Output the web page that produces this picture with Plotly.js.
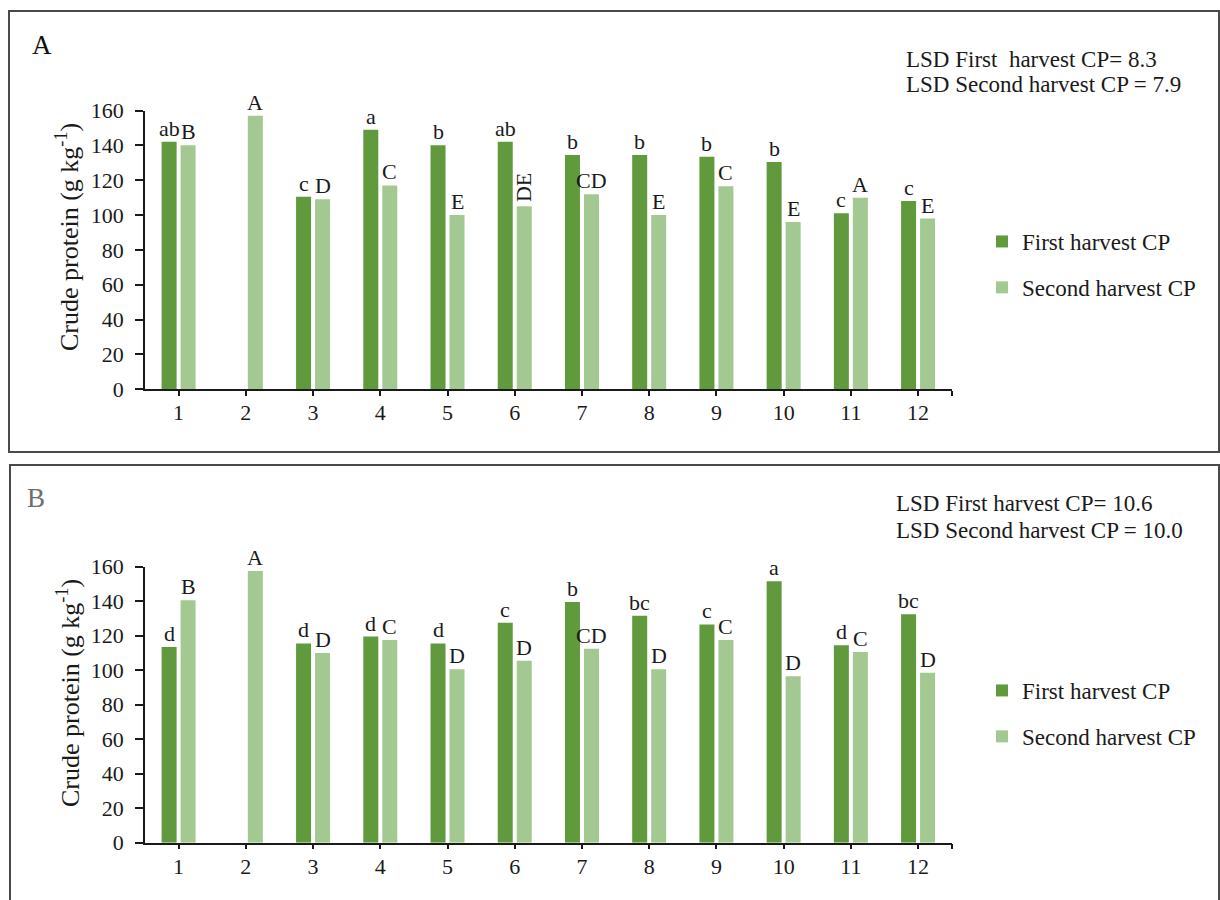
<!DOCTYPE html>
<html>
<head>
<meta charset="utf-8">
<script src="https://cdn.plot.ly/plotly-3.0.1.min.js"></script>
<style>
html,body{margin:0;padding:0;background:#ffffff;}
#chart{width:1220px;height:900px;}
</style>
</head>
<body>
<div id="chart"></div>
<script>
// ---------------- data ----------------
const treatments = [1,2,3,4,5,6,7,8,9,10,11,12];
const tickLabels = ['1','2','3','4','5','6','7','8','9','10','11','12'];

const firstA  = [142, null, 110.5, 149, 140, 142, 134.5, 134.5, 133.5, 130.5, 101, 108];
const secondA = [140, 157, 109, 117, 100, 105, 112, 100, 116.5, 96, 110, 98];
const firstB  = [113.5, null, 115.5, 119.5, 115.5, 127.5, 139.5, 131.5, 126.5, 151.5, 114.5, 132.5];
const secondB = [140.5, 157.5, 110, 117.5, 100.5, 105.5, 112.5, 100.5, 117.5, 96.5, 110.5, 98.5];

const lettersFirstA  = ['ab','','c','a','b','ab','b','b','b','b','c','c'];
const lettersSecondA = ['B','A','D','C','E','DE','CD','E','C','E','A','E'];
const lettersFirstB  = ['d','','d','d','d','c','b','bc','c','a','d','bc'];
const lettersSecondB = ['B','A','D','C','D','D','CD','D','C','D','C','D'];

const seriesNames = ['First harvest CP','Second harvest CP'];
const lsdA = ['LSD First\u00a0 harvest CP= 8.3','LSD Second harvest CP = 7.9'];
const lsdB = ['LSD First harvest CP= 10.6','LSD Second harvest CP = 10.0'];
const panelLabels = ['A','B'];
const yTitle = 'Crude protein (g kg<sup>-1</sup>)';

// ---------------- style ----------------
const W = 1220, H = 900;
const px = p => p / W;
const py = p => 1 - p / H;
const FONT = 'Liberation Serif, Times New Roman, serif';
const dark = '#609a3c';
const light = '#a3c891';
const ink = '#1a1a1a';

const traces = [
  {type:'bar', x:treatments, y:firstA, name:seriesNames[0], marker:{color:dark}, xaxis:'x', yaxis:'y', legend:'legend', legendgroup:'a1'},
  {type:'bar', x:treatments, y:secondA, name:seriesNames[1], marker:{color:light}, xaxis:'x', yaxis:'y', legend:'legend', legendgroup:'a2'},
  {type:'bar', x:treatments, y:firstB, name:seriesNames[0], marker:{color:dark}, xaxis:'x2', yaxis:'y2', legend:'legend2', legendgroup:'b1'},
  {type:'bar', x:treatments, y:secondB, name:seriesNames[1], marker:{color:light}, xaxis:'x2', yaxis:'y2', legend:'legend2', legendgroup:'b2'}
];
traces.forEach(t => { t.hoverinfo = 'x+y+name'; });

function xAxis(anchor){
  return {
    anchor: anchor, domain:[px(145), px(951.7)], range:[0.5, 12.5],
    tickmode:'array', tickvals: treatments, ticktext: tickLabels,
    ticks:'outside', ticklen:5, tickwidth:1.5, tickcolor:ink,
    minor:{tickmode:'array', tickvals:[12.5], ticks:'outside', ticklen:5, tickwidth:1.5, tickcolor:ink, showgrid:false},
    showline:true, linecolor:ink, linewidth:1.5, showgrid:false, zeroline:false,
    tickfont:{family:FONT, size:22, color:ink}, ticklabelstandoff:-2, fixedrange:true
  };
}
function yAxis(anchor, dom){
  return {
    anchor: anchor, domain: dom, range:[0,160], dtick:20, tick0:0,
    ticks:'outside', ticklen:8, tickwidth:1.5, tickcolor:ink,
    showline:true, linecolor:ink, linewidth:1.5, showgrid:false, zeroline:false,
    tickfont:{family:FONT, size:22, color:ink}, ticklabelstandoff:7, fixedrange:true
  };
}

const annotations = [];
function addLetters(letters, vals, xref, yref, shift){
  letters.forEach((t,i) => {
    if (!t || vals[i] == null) return;
    const rot = t === 'DE';
    annotations.push({
      x: treatments[i], y: vals[i], xref: xref, yref: yref, text: t, showarrow:false,
      xanchor:'center', yanchor:'bottom', xshift: shift, yshift: rot ? 2 : -1,
      textangle: rot ? -90 : 0,
      font:{family:FONT, size:22, color:ink}
    });
  });
}
addLetters(lettersFirstA, firstA, 'x', 'y', -9.5);
addLetters(lettersSecondA, secondA, 'x', 'y', 9.5);
addLetters(lettersFirstB, firstB, 'x2', 'y2', -9.5);
addLetters(lettersSecondB, secondB, 'x2', 'y2', 9.5);

// y-axis titles (placed as rotated text, slightly above the axis centre as in the reference)
[[237], [693]].forEach(([cy]) => annotations.push({
  x: px(68), y: py(cy), xref:'paper', yref:'paper', text: yTitle, showarrow:false,
  textangle:-90, xanchor:'center', yanchor:'middle', font:{family:FONT, size:26, color:ink}
}));

// LSD notes and panel labels
[[lsdA, 904, [59, 84]], [lsdB, 894, [503, 530]]].forEach(([lines, x0, ys]) => {
  lines.forEach((t, k) => annotations.push({
    x: px(x0), y: py(ys[k]), xref:'paper', yref:'paper', text:t, showarrow:false,
    xanchor:'left', yanchor:'middle', font:{family:FONT, size:23, color:ink}
  }));
});
annotations.push({x:px(42), y:py(45), xref:'paper', yref:'paper', text:panelLabels[0], showarrow:false,
  xanchor:'center', yanchor:'middle', font:{family:FONT, size:27, color:'#111111'}});
annotations.push({x:px(36), y:py(498), xref:'paper', yref:'paper', text:panelLabels[1], showarrow:false,
  xanchor:'center', yanchor:'middle', font:{family:FONT, size:27, color:'#6e6e6e'}});

const frame = {color:'#4a4a4a', width:2};
const shapes = [
  {type:'rect', xref:'paper', yref:'paper', x0:px(9), x1:px(1219), y0:py(452), y1:py(11), line:frame},
  {type:'rect', xref:'paper', yref:'paper', x0:px(10), x1:px(1219), y0:py(910), y1:py(465), line:frame}
];

function legendAt(topPx){
  return {x:px(982), y:py(topPx), xanchor:'left', yanchor:'top', orientation:'v',
    font:{family:FONT, size:23, color:ink}, bgcolor:'rgba(0,0,0,0)', borderwidth:0,
    traceorder:'grouped', tracegroupgap:13, itemwidth:30, itemclick:false, itemdoubleclick:false};
}

const layout = {
  width:W, height:H, margin:{l:0, r:0, t:0, b:0},
  paper_bgcolor:'#ffffff', plot_bgcolor:'#ffffff',
  barmode:'group', bargap:0.435, bargroupgap:0.21,
  xaxis: xAxis('y'), yaxis: yAxis('x', [py(389.3), py(110.5)]),
  xaxis2: xAxis('y2'), yaxis2: yAxis('x2', [py(842.7), py(566.7)]),
  legend: legendAt(220), legend2: legendAt(669),
  annotations: annotations, shapes: shapes,
  font:{family:FONT, color:ink}, showlegend:true
};

Plotly.newPlot('chart', traces, layout, {displayModeBar:false, staticPlot:false});
</script>
</body>
</html>
